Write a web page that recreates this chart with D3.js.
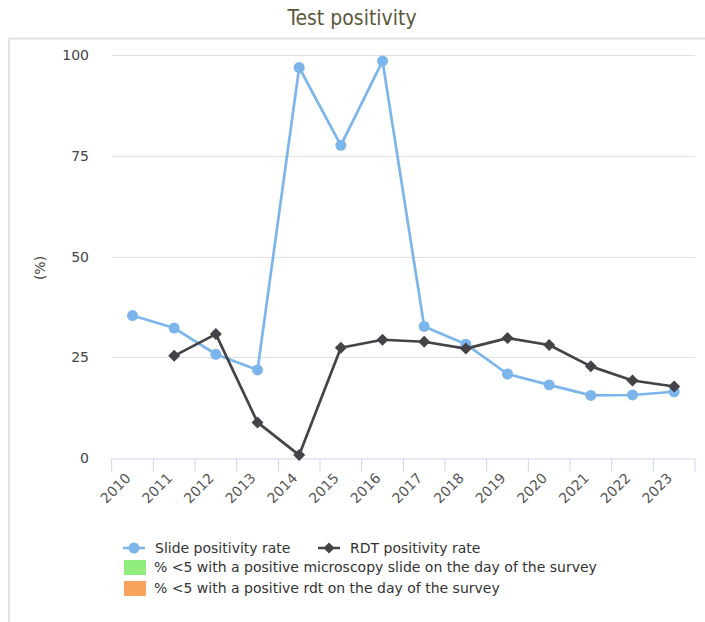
<!DOCTYPE html>
<html>
<head>
<meta charset="utf-8">
<script src="https://cdn.jsdelivr.net/npm/d3@7"></script>
<style>
  body { margin: 0; background: #fff; }
  svg { display: block; }
</style>
</head>
<body>
<div id="chart"></div>
<script>
// Test positivity chart

const years = ["2010", "2011", "2012", "2013", "2014", "2015", "2016", "2017", "2018", "2019", "2020", "2021", "2022", "2023"];
const slideRate = [35.4, 32.3, 25.8, 21.9, 96.9, 77.6, 98.5, 32.7, 28.3, 20.9, 18.2, 15.6, 15.7, 16.5];
const rdtRate = [null, 25.4, 30.8, 8.9, 0.8, 27.4, 29.4, 28.9, 27.2, 29.8, 28.1, 22.8, 19.3, 17.8];
const yTicks = [0, 25, 50, 75, 100];
const legendItems = [
  { label: "Slide positivity rate", type: "circle", color: "#7cb5ec" },
  { label: "RDT positivity rate", type: "diamond", color: "#434348" },
  { label: "% <5 with a positive microscopy slide on the day of the survey", type: "rect", color: "#90ed7d" },
  { label: "% <5 with a positive rdt on the day of the survey", type: "rect", color: "#f7a35c" }
];

const width = 705, height = 622;
const font = "'DejaVu Sans', sans-serif";

const svg = d3.select("#chart").append("svg")
  .attr("width", width)
  .attr("height", height);

// outer frame (left + top edges visible)
svg.append("path")
  .attr("d", "M9,622 V38.5 H705")
  .attr("fill", "none")
  .attr("stroke", "#e3e3e3")
  .attr("stroke-width", 2);

// title
svg.append("text")
  .attr("x", 352)
  .attr("y", 25)
  .attr("text-anchor", "middle")
  .attr("font-family", "'DejaVu Sans Condensed', 'DejaVu Sans', sans-serif")
  .attr("font-size", 21)
  .attr("fill", "#5b583b")
  .text("Test positivity");

const x = d3.scaleBand().domain(years).range([111.7, 695]);
const y = d3.scaleLinear().domain([0, 100]).range([458.3, 55]);

// grid
svg.append("g")
  .selectAll("line")
  .data(yTicks.filter(d => d > 0))
  .enter().append("line")
  .attr("x1", 111.7).attr("x2", 695)
  .attr("y1", d => Math.round(y(d)) + 0.5)
  .attr("y2", d => Math.round(y(d)) + 0.5)
  .attr("stroke", "#e0e0e0")
  .attr("stroke-width", 1);

// y labels
svg.append("g")
  .selectAll("text")
  .data(yTicks)
  .enter().append("text")
  .attr("x", 89)
  .attr("y", d => y(d) + 5)
  .attr("text-anchor", "end")
  .attr("font-family", font)
  .attr("font-size", 14)
  .attr("fill", "#444")
  .text(d => d);

svg.append("text")
  .attr("transform", "translate(45,268) rotate(-90)")
  .attr("text-anchor", "middle")
  .attr("font-family", font)
  .attr("font-size", 14)
  .attr("fill", "#444")
  .text("(%)");

// x axis
const xAxis = d3.axisBottom(x)
  .tickSize(13)
  .tickFormat("");
const xg = svg.append("g")
  .attr("transform", "translate(0,458.5)")
  .call(xAxis);
xg.select(".domain").attr("stroke", "#ccd6eb").attr("d", "M111.7,0.5H695");
xg.selectAll(".tick line")
  .attr("stroke", "#ccd6eb")
  .attr("transform", `translate(${-x.bandwidth() / 2},0)`);
xg.append("line")
  .attr("x1", 695).attr("x2", 695).attr("y1", 0).attr("y2", 13)
  .attr("stroke", "#ccd6eb");

svg.append("g")
  .selectAll("text")
  .data(years)
  .enter().append("text")
  .attr("transform", d => `translate(${x(d) + x.bandwidth() / 2 - 1},${479}) rotate(-45)`)
  .attr("text-anchor", "end")
  .attr("font-family", font)
  .attr("font-size", 14)
  .attr("fill", "#555")
  .text(d => d);

const cx = (d, i) => x(years[i]) + x.bandwidth() / 2;

// series
const line = d3.line()
  .defined(d => d != null)
  .x((d, i) => cx(d, i))
  .y(d => y(d));

svg.append("path")
  .datum(slideRate)
  .attr("d", line)
  .attr("fill", "none")
  .attr("stroke", "#7cb5ec")
  .attr("stroke-width", 2.7)
  .attr("stroke-linejoin", "round");

svg.append("g")
  .selectAll("circle")
  .data(slideRate)
  .enter().append("circle")
  .attr("cx", cx)
  .attr("cy", d => y(d))
  .attr("r", 5.5)
  .attr("fill", "#7cb5ec");

svg.append("path")
  .datum(rdtRate)
  .attr("d", line)
  .attr("fill", "none")
  .attr("stroke", "#434348")
  .attr("stroke-width", 2.7)
  .attr("stroke-linejoin", "round");

const diamond = r => `M0,${-r}L${r},0L0,${r}L${-r},0Z`;

svg.append("g")
  .selectAll("path")
  .data(rdtRate.map((v, i) => ({ v, i })).filter(d => d.v != null))
  .enter().append("path")
  .attr("transform", d => `translate(${cx(d.v, d.i)},${y(d.v)})`)
  .attr("d", diamond(6))
  .attr("fill", "#434348");

// legend
const legendPos = [
  { x: 123, y: 548 },
  { x: 318, y: 548 },
  { x: 123, y: 567 },
  { x: 123, y: 588 }
];
const lg = svg.append("g");
legendItems.forEach((item, i) => {
  const p = legendPos[i];
  const g = lg.append("g").attr("transform", `translate(${p.x},${p.y})`);
  if (item.type === "rect") {
    g.append("rect")
      .attr("x", 1).attr("y", -7)
      .attr("width", 22).attr("height", 15)
      .attr("fill", item.color);
  } else {
    g.append("line")
      .attr("x1", 0).attr("x2", 22)
      .attr("stroke", item.color)
      .attr("stroke-width", 2.5);
    if (item.type === "circle") {
      g.append("circle").attr("cx", 11).attr("r", 5.5).attr("fill", item.color);
    } else {
      g.append("path").attr("transform", "translate(11,0)").attr("d", diamond(5.5)).attr("fill", item.color);
    }
  }
  g.append("text")
    .attr("x", item.type === "rect" ? 31 : 32)
    .attr("y", 5)
    .attr("font-family", font)
    .attr("font-size", 14)
    .attr("fill", "#333")
    .text(item.label);
});
</script>
</body>
</html>
